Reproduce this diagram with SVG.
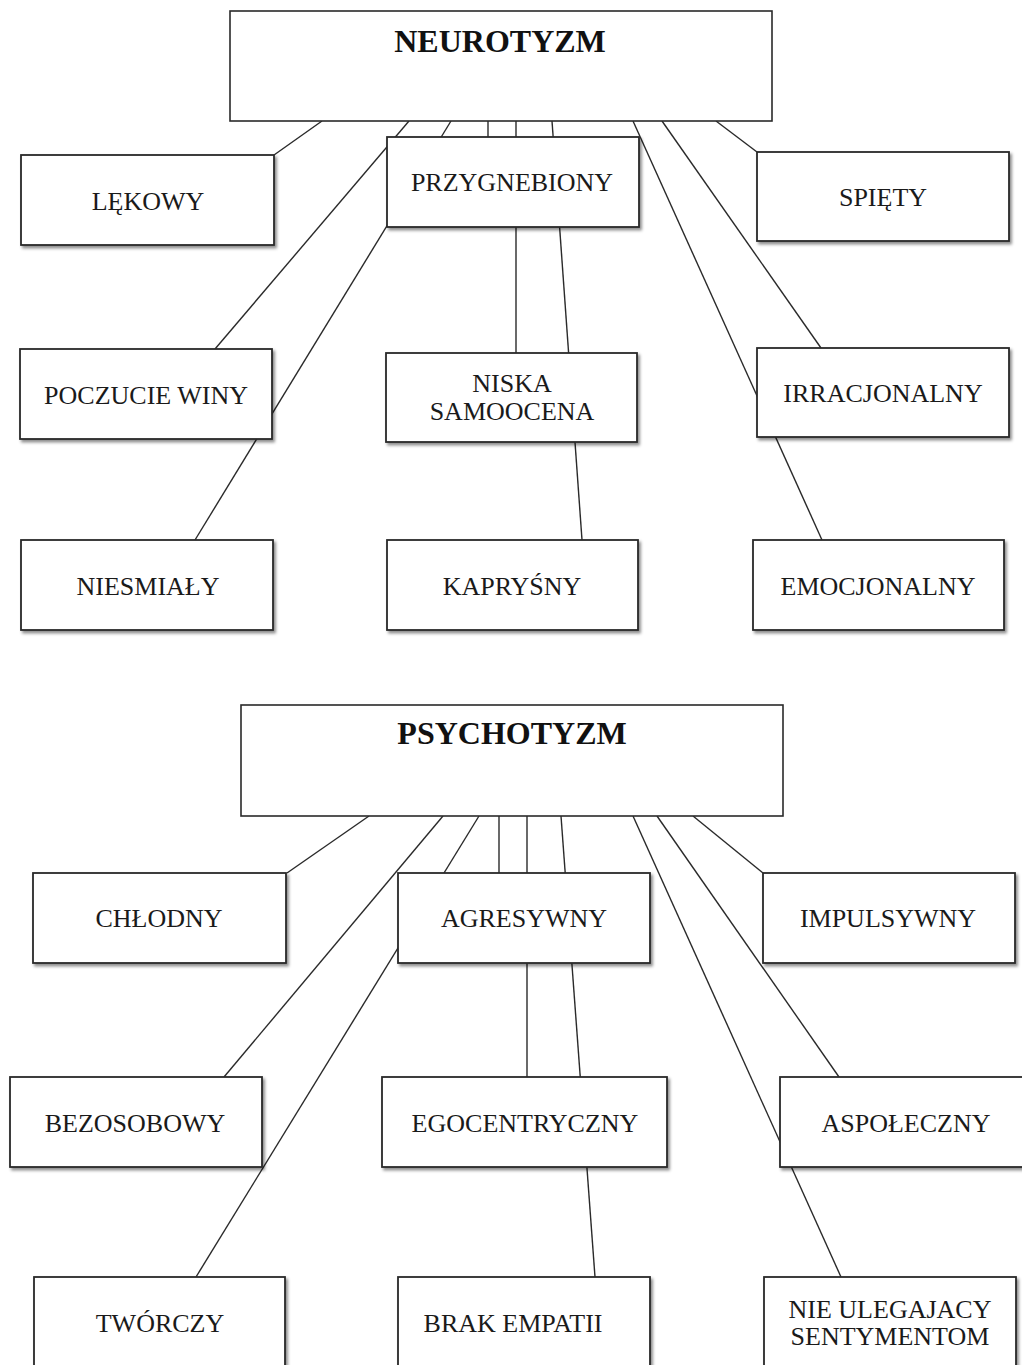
<svg xmlns="http://www.w3.org/2000/svg" width="1022" height="1365" viewBox="0 0 1022 1365">
<defs>
<filter id="sh" x="-10%" y="-10%" width="125%" height="130%">
<feDropShadow dx="2" dy="2.5" stdDeviation="1.5" flood-color="#000" flood-opacity="0.45"/>
</filter>
<style>
.main{fill:#fff;stroke:#2a2a2a;stroke-width:1.6}
.box{fill:#fff;stroke:#2a2a2a;stroke-width:1.8;filter:url(#sh)}
.t{font-family:"Liberation Serif","Times New Roman",serif;font-size:26px;fill:#1a1a1a;text-anchor:middle}
.h{font-family:"Liberation Serif","Times New Roman",serif;font-size:32px;font-weight:bold;fill:#111;text-anchor:middle}
.c line{stroke:#2a2a2a;stroke-width:1.4}
</style>
</defs>
<rect width="1022" height="1365" fill="#fff"/>

<g id="connectors" class="c">
<line x1="322" y1="121" x2="274" y2="155"/>
<line x1="409" y1="121" x2="215" y2="349"/>
<line x1="451" y1="121" x2="195" y2="540"/>
<line x1="488" y1="121" x2="488" y2="137"/>
<line x1="516" y1="121" x2="516" y2="353"/>
<line x1="552" y1="121" x2="582" y2="540"/>
<line x1="633" y1="121" x2="822" y2="540"/>
<line x1="662" y1="121" x2="821" y2="348"/>
<line x1="716" y1="121" x2="757" y2="152"/>

<line x1="369" y1="816" x2="287" y2="873"/>
<line x1="443" y1="816" x2="224" y2="1077"/>
<line x1="479" y1="816" x2="196" y2="1277"/>
<line x1="499" y1="816" x2="499" y2="873"/>
<line x1="527" y1="816" x2="527" y2="1077"/>
<line x1="561" y1="816" x2="595" y2="1277"/>
<line x1="633" y1="816" x2="841" y2="1277"/>
<line x1="657" y1="816" x2="839" y2="1077"/>
<line x1="693" y1="816" x2="763" y2="873"/>
</g>

<g id="neurotyzm"><rect class="main" x="230" y="11" width="542" height="110"/><text class="h" x="500" y="52">NEUROTYZM</text></g>
<g id="lekowy"><rect class="box" x="21" y="155" width="253" height="90"/><text class="t" x="148" y="210">LĘKOWY</text></g>
<g id="przygnebiony"><rect class="box" x="387" y="137" width="252" height="90"/><text class="t" x="512" y="191">PRZYGNEBIONY</text></g>
<g id="spiety"><rect class="box" x="757" y="152" width="252" height="89"/><text class="t" x="883" y="206">SPIĘTY</text></g>
<g id="poczucie-winy"><rect class="box" x="20" y="349" width="252" height="90"/><text class="t" x="146" y="404">POCZUCIE WINY</text></g>
<g id="niska-samoocena"><rect class="box" x="386" y="353" width="251" height="89"/><text class="t" x="512" y="392">NISKA</text><text class="t" x="512" y="420">SAMOOCENA</text></g>
<g id="irracjonalny"><rect class="box" x="757" y="348" width="252" height="89"/><text class="t" x="883" y="402">IRRACJONALNY</text></g>
<g id="niesmialy"><rect class="box" x="21" y="540" width="252" height="90"/><text class="t" x="148" y="595">NIESMIAŁY</text></g>
<g id="kaprysny"><rect class="box" x="387" y="540" width="251" height="90"/><text class="t" x="512" y="595">KAPRYŚNY</text></g>
<g id="emocjonalny"><rect class="box" x="753" y="540" width="251" height="90"/><text class="t" x="878" y="595">EMOCJONALNY</text></g>

<g id="psychotyzm"><rect class="main" x="241" y="705" width="542" height="111"/><text class="h" x="512" y="744">PSYCHOTYZM</text></g>
<g id="chlodny"><rect class="box" x="33" y="873" width="253" height="90"/><text class="t" x="159" y="927">CHŁODNY</text></g>
<g id="agresywny"><rect class="box" x="398" y="873" width="252" height="90"/><text class="t" x="524" y="927">AGRESYWNY</text></g>
<g id="impulsywny"><rect class="box" x="763" y="873" width="252" height="90"/><text class="t" x="888" y="927">IMPULSYWNY</text></g>
<g id="bezosobowy"><rect class="box" x="10" y="1077" width="252" height="90"/><text class="t" x="135" y="1132">BEZOSOBOWY</text></g>
<g id="egocentryczny"><rect class="box" x="382" y="1077" width="285" height="90"/><text class="t" x="525" y="1132">EGOCENTRYCZNY</text></g>
<g id="aspoleczny"><rect class="box" x="780" y="1077" width="252" height="90"/><text class="t" x="906" y="1132">ASPOŁECZNY</text></g>
<g id="tworczy"><rect class="box" x="34" y="1277" width="251" height="90"/><text class="t" x="160" y="1332">TWÓRCZY</text></g>
<g id="brak-empatii"><rect class="box" x="398" y="1277" width="252" height="90"/><text class="t" x="513" y="1332">BRAK EMPATII</text></g>
<g id="nie-ulegajacy"><rect class="box" x="764" y="1277" width="252" height="90"/><text class="t" x="890" y="1318">NIE ULEGAJACY</text><text class="t" x="890" y="1345">SENTYMENTOM</text></g>
</svg>
